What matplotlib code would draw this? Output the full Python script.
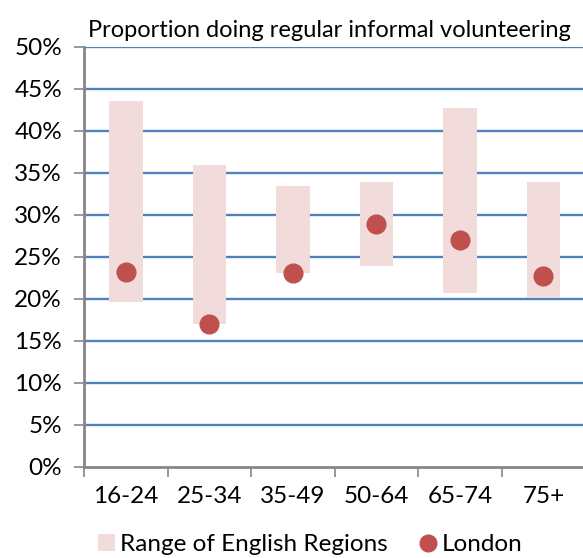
import numpy as np
import matplotlib
matplotlib.use('Agg')
import matplotlib.pyplot as plt
from matplotlib.patches import Patch
from matplotlib.lines import Line2D

plt.rcParams['font.family'] = ['Lato', 'DejaVu Sans']

# ----- Data -----
age_groups = ['16-24', '25-34', '35-49', '50-64', '65-74', '75+']
region_min = [19.6, 17.0, 23.1, 23.9, 20.7, 20.1]
region_max = [43.6, 35.9, 33.4, 33.9, 42.7, 33.9]
london = [23.2, 17.0, 23.1, 28.9, 27.0, 22.7]
y_ticks = [0, 5, 10, 15, 20, 25, 30, 35, 40, 45, 50]

title = 'Proportion doing regular informal volunteering'
range_label = 'Range of English Regions'
london_label = 'London'

bar_color = '#f2dcdb'
dot_color = '#c0504d'
grid_color = '#4f81bd'
axis_color = '#868686'

# ----- Plotting -----
fig = plt.figure(figsize=(5.83, 5.58), dpi=100)
ax = fig.add_axes([0.1445, 0.1631, 0.8593, 0.7527])

x = np.arange(len(age_groups))
heights = np.array(region_max) - np.array(region_min)

for yv in y_ticks[1:]:
    ax.axhline(yv, color=grid_color, linewidth=1.7, zorder=1)

ax.bar(x, heights, bottom=region_min, width=0.4, color=bar_color, zorder=2)
ax.plot(x, london, 'o', color=dot_color, markersize=13.5, zorder=3)

ax.set_xlim(-0.5, 5.5)
ax.set_ylim(0, 50)

ax.set_yticks(y_ticks)
ax.set_yticklabels(['%d%%' % v for v in y_ticks])

ax.set_xticks(np.arange(-0.5, 6, 1.0))
ax.set_xticklabels([])
ax.set_xticks(x, minor=True)
ax.set_xticklabels(age_groups, minor=True)

ax.tick_params(axis='y', which='major', length=7, width=1.2, color=axis_color,
               labelsize=17.5, pad=9)
ax.tick_params(axis='x', which='major', length=7, width=1.2, color=axis_color)
ax.tick_params(axis='x', which='minor', length=0, labelsize=17.5, pad=14)

for side in ['top', 'right']:
    ax.spines[side].set_visible(False)
for side in ['left', 'bottom']:
    ax.spines[side].set_color(axis_color)
    ax.spines[side].set_linewidth(2)
    ax.spines[side].set_zorder(4)

ax.set_title(title, fontsize=17, pad=7, x=0.49)

handles = [
    Patch(facecolor=bar_color, edgecolor='none', label=range_label),
    Line2D([], [], marker='o', linestyle='none', color=dot_color,
           markersize=12, label=london_label),
]
fig.legend(handles=handles, loc='center', bbox_to_anchor=(0.532, 0.024),
           ncol=2, frameon=False, fontsize=17.5, handlelength=0.7,
           handletextpad=0.2, columnspacing=1.3)

fig.savefig('out.png', dpi=100)
